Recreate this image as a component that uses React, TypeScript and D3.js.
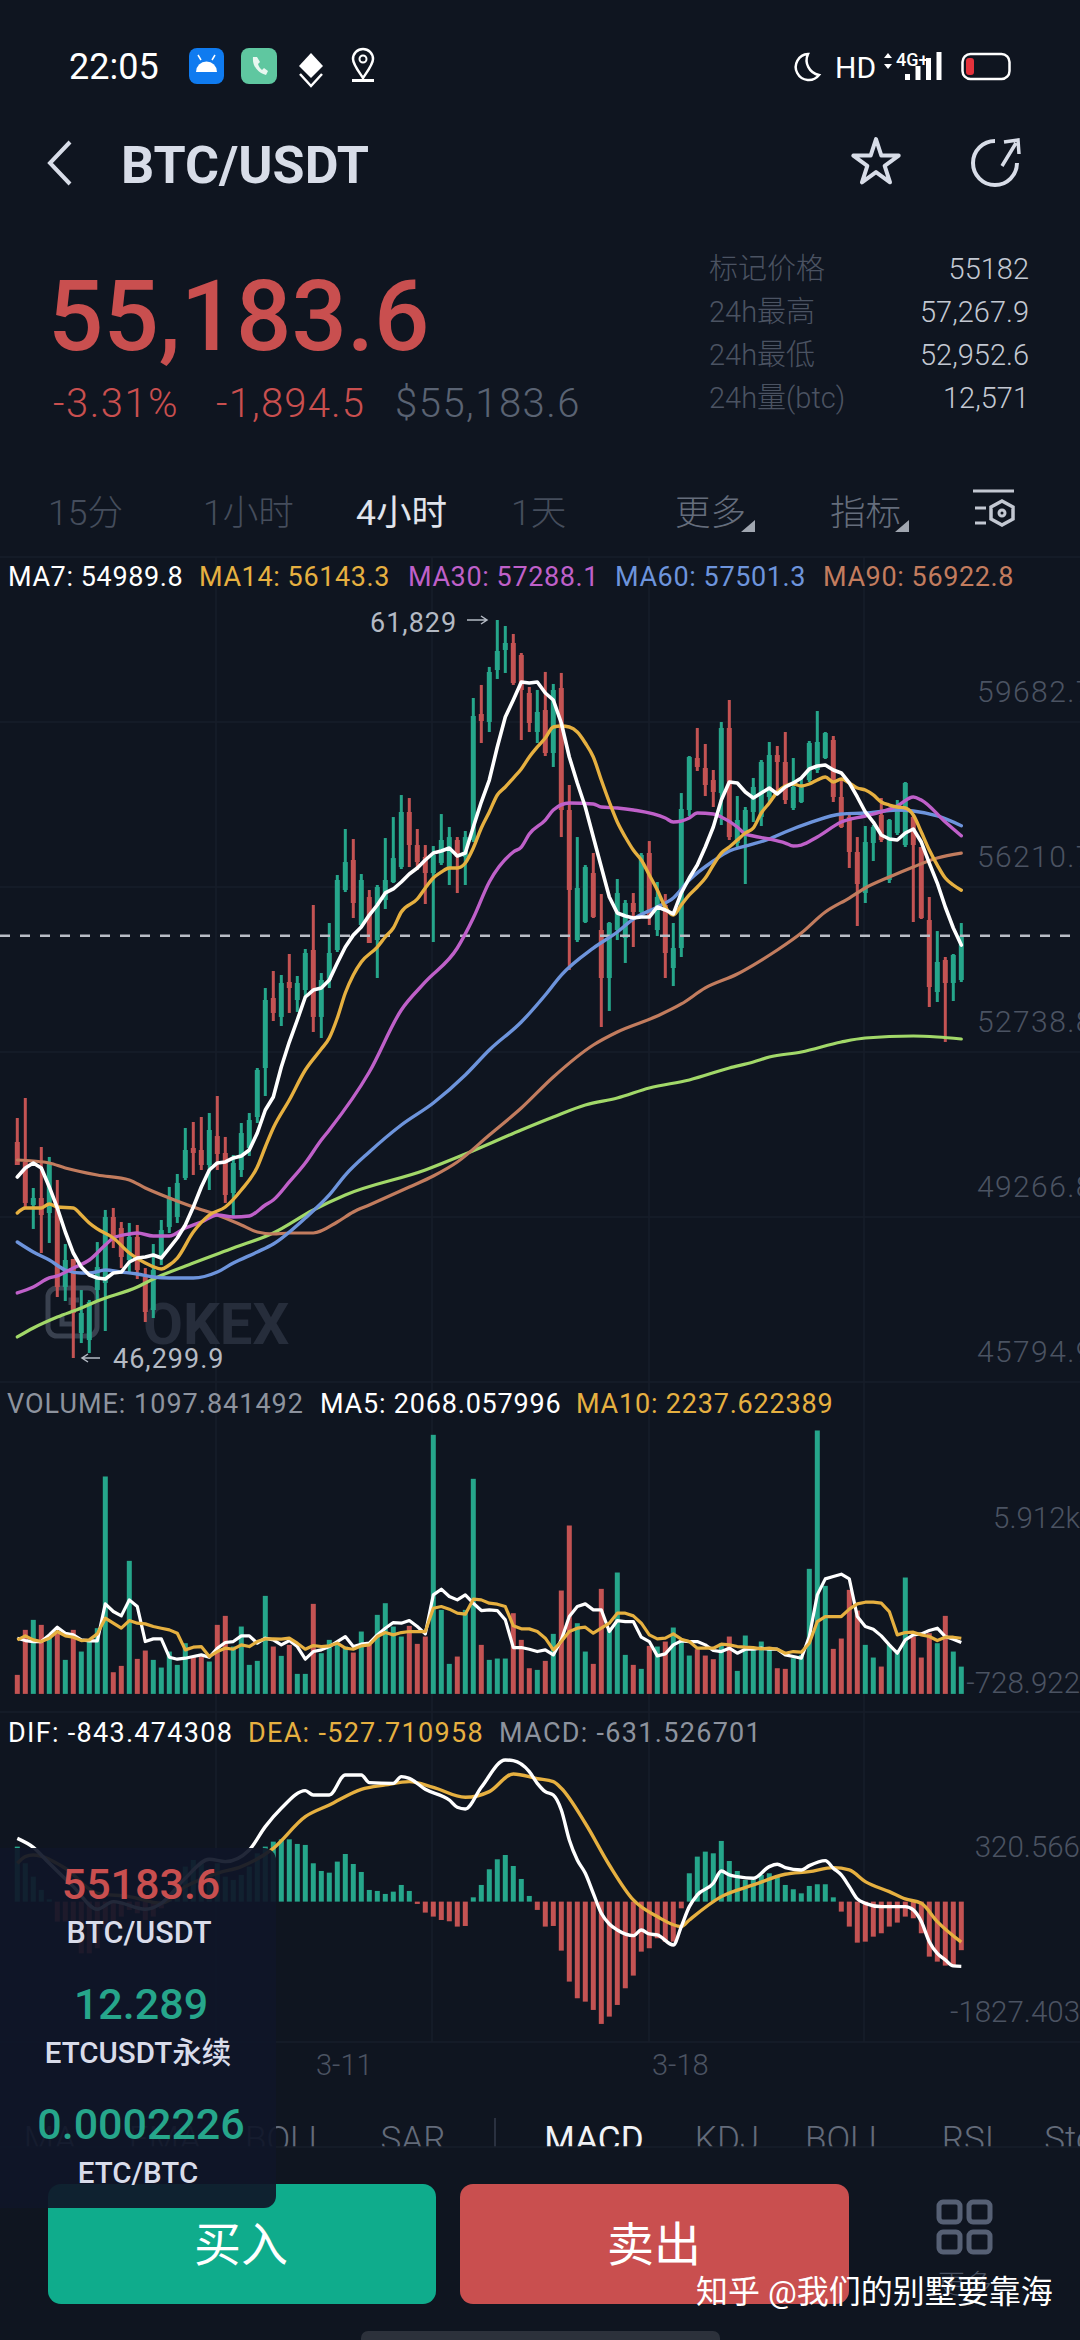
import React from "react";
import * as d3 from "d3";

// candles
const opens = [50845,50424,49520,49667,49351,49478,47795,48383,46826,46678,47730,47878,49267,49036,48362,48846,48004,47310,48425,49057,49267,50088,50719,50677,50361,50971,50614,49772,50256,50719,51371,52402,53875,53476,54212,53833,54043,54885,53476,54254,54885,56148,56779,55411,56000,55095,55937,56316,56631,57789,57094,56842,56505,56716,56631,57200,56842,57200,59851,59683,60777,61198,61345,61093,60293,59472,59935,59030,60398,57831,55095,55475,56505,55306,54296,55306,55137,55874,55685,56926,55306,55832,54506,54927,57831,58925,58715,58462,58189,59557,57136,57347,57788,57684,58105,58988,58841,57873,57999,58462,58673,58925,59304,58105,57684,56947,56085,57136,57726,56358,57347,57094,57684,57052,55516,54001,54675,54191,54254];
const closes = [50361,49562,49667,49309,50424,47795,48362,47247,47247,47478,48214,49267,48784,48425,48846,48151,47267,48151,48993,49688,49983,50677,50614,50361,51098,50593,49730,50403,51034,51308,52360,53833,53560,54191,54085,54191,54822,53476,54254,54822,56358,56736,55874,56358,55032,56211,56358,56820,57789,57094,56736,56505,56884,57200,57262,56842,57262,59809,59704,60735,61177,61345,60503,60356,59662,59893,59030,60356,57831,56148,56190,56631,55580,54296,55453,56084,55874,55685,56884,55622,56000,54822,54927,57852,58946,58736,58357,58210,59557,57262,57621,57831,58315,58841,58988,58841,58041,58315,58357,59241,59262,59451,58105,57473,56947,56274,57157,57473,57200,57620,57873,58399,57094,55558,54106,54633,54191,54780,55184];
const highs = [51350,51771,49877,50740,50530,50046,48698,48383,47730,47520,48740,49415,49457,49162,49141,49099,48193,48698,49204,49899,50172,51140,51266,51371,51455,51813,50951,50572,51245,51455,52402,54085,54443,54359,54801,54338,54906,55832,54401,55453,56463,57431,57220,56484,56148,56253,57241,57683,58146,58083,57431,57094,57073,57746,57473,57262,57389,60188,60462,60841,61829,61703,61535,61135,60420,60357,60736,60483,60715,58357,57262,56673,56926,56063,55474,56379,55937,56084,56926,57178,56316,56063,55453,58188,58967,59557,59220,58673,59683,60146,58125,57894,58505,58883,59262,59178,59472,58925,58505,59283,59914,59472,59388,58505,57768,57262,57494,57515,58083,57641,58041,58420,57725,57052,56000,55284,54738,54801,55453];
const lows = [50361,49478,49015,48509,48720,47583,47499,46300,46615,46405,47520,46868,48614,48193,48109,47962,47057,47141,48256,48930,49141,50046,50151,50256,49835,50256,49562,49267,50109,50551,51245,51813,53391,53286,53560,53581,53875,53160,53033,54085,54843,56105,55558,55369,55032,54296,55748,56295,56589,56631,56568,55853,55053,56673,56253,56084,56253,57157,59241,59472,60588,60714,60462,59304,59472,59241,58967,58736,57262,54464,55053,55453,55558,53265,53602,55095,54612,54948,55664,55411,55179,54296,54127,54738,57705,58652,58125,57894,57515,57200,57031,56274,57578,57494,57978,58188,57957,57831,57978,58420,58610,58904,57999,57452,56611,55390,55874,56758,57157,56295,57305,57052,55474,55537,53686,53791,52950,53812,54211];

// price moving averages: MA7 per candle, the slower ones as [candle, price]
const ma7 = [50109,50299,50404,50299,49899,49457,48951,48509,48214,48046,47983,47962,48088,48109,48320,48404,48425,48467,48404,48614,48825,49099,49478,49899,50256,50404,50425,50509,50551,50677,51034,51518,51792,52423,52949,53412,53896,54043,54085,54254,54611,54948,55198,55369,55621,55832,56085,56169,56316,56484,56611,56779,56926,56968,57031,56863,56926,57473,57999,58462,59156,59787,60146,60524,60503,60524,60293,60146,59662,58947,58400,57894,57263,56632,56000,55663,55600,55558,55579,55579,55790,55727,55643,56085,56400,56673,57052,57473,58041,58420,58400,58210,58083,58189,58294,58168,58315,58400,58504,58694,58757,58778,58673,58610,58400,58105,57789,57578,57305,57221,57200,57347,57431,57157,56715,56294,55790,55348,54990];
const ma14: [number, number][] = [[0,49351],[1,49457],[3,49457],[4,49540],[5,49477],[7,49457],[8,49309],[9,49141],[10,49015],[12,48825],[14,48509],[16,48299],[18,48173],[19,48257],[20,48404],[22,48951],[24,49309],[26,49477],[28,49835],[30,50319],[31,50740],[32,51140],[34,51729],[36,52360],[38,52802],[39,53033],[40,53454],[41,53980],[42,54359],[43,54632],[45,54948],[46,55159],[47,55348],[48,55685],[50,55958],[51,56190],[52,56400],[53,56526],[54,56611],[55,56611],[56,56716],[57,57031],[58,57452],[59,57789],[60,58147],[61,58315],[62,58504],[63,58694],[64,58947],[65,59157],[66,59346],[67,59577],[68,59598],[69,59577],[70,59472],[71,59241],[72,58947],[73,58462],[74,57999],[75,57578],[76,57263],[77,56989],[78,56779],[79,56463],[80,56148],[81,55790],[82,55621],[83,55832],[84,56043],[85,56211],[86,56400],[87,56673],[88,56926],[89,57052],[90,57200],[91,57347],[92,57452],[93,57768],[94,57978],[95,58210],[96,58336],[97,58378],[98,58336],[99,58378],[100,58462],[101,58525],[102,58420],[103,58483],[104,58400],[105,58294],[106,58252],[107,58147],[108,57999],[109,57936],[110,57894],[111,57873],[112,57725],[113,57367],[114,56989],[115,56673],[116,56400],[117,56253],[118,56143]];
const ma30: [number, number][] = [[0,47668],[2,47794],[4,47984],[5,48026],[7,48194],[9,48362],[11,48677],[12,48825],[14,48909],[15,48930],[17,48867],[19,48867],[21,49035],[23,49162],[25,49309],[27,49267],[29,49288],[31,49519],[32,49625],[34,50004],[36,50404],[38,50887],[39,51098],[44,52318],[48,53623],[51,54212],[55,54927],[57,55558],[59,56316],[62,56947],[63,57052],[64,57326],[66,57620],[67,57831],[69,57978],[72,57957],[73,57894],[75,57873],[77,57831],[81,57663],[82,57578],[84,57663],[85,57768],[87,57747],[88,57684],[90,57473],[91,57326],[92,57284],[94,57221],[96,57136],[97,57073],[98,57094],[100,57263],[103,57578],[106,57705],[108,57789],[110,57915],[112,58105],[113,58041],[116,57578],[118,57288]];
const ma60: [number, number][] = [[0,48741],[2,48531],[4,48362],[6,48151],[8,48088],[9,48088],[11,48151],[13,48109],[15,48067],[17,48004],[19,47983],[22,47983],[25,48109],[27,48299],[30,48531],[32,48699],[36,49245],[39,49730],[41,50149],[44,50635],[48,51203],[52,51666],[56,52255],[59,52781],[63,53370],[66,53938],[68,54358],[72,54926],[75,55264],[77,55537],[80,55790],[82,55979],[84,56358],[87,56758],[89,56968],[91,57073],[94,57221],[96,57368],[99,57558],[103,57747],[106,57768],[110,57831],[112,57810],[115,57705],[118,57501]];
const ma90: [number, number][] = [[0,50466],[2,50445],[4,50404],[6,50299],[10,50151],[14,50046],[16,49877],[19,49667],[22,49477],[25,49309],[28,49099],[30,48951],[32,48909],[34,48930],[37,48930],[40,49162],[42,49372],[44,49519],[49,49898],[52,50130],[55,50424],[59,50992],[63,51560],[67,52213],[72,52886],[75,53160],[80,53496],[83,53749],[86,54086],[90,54380],[92,54569],[95,54885],[98,55243],[101,55685],[104,55979],[106,56190],[109,56421],[112,56632],[115,56821],[118,56923]];
const ma120: [number, number][] = [[0,46742],[2,46932],[5,47163],[8,47352],[10,47499],[15,47794],[17,47962],[22,48299],[27,48614],[32,48930],[37,49414],[41,49730],[51,50256],[56,50592],[63,51098],[67,51371],[71,51624],[75,51772],[79,51982],[84,52151],[89,52403],[92,52529],[94,52634],[98,52739],[103,52949],[106,53033],[112,53075],[115,53054],[118,53012]];

// volume
const volumes = [765,2577,2979,2778,2308,2442,1369,2577,1704,2107,2644,8750,872,1127,5355,1409,1745,1369,1060,1704,1168,2040,1503,1503,1302,2778,3140,1906,2711,1168,1329,3945,1906,1530,1973,805,805,3623,1637,2174,2040,1906,1664,2510,1973,3181,3650,2711,2308,2738,2013,2308,10427,3382,1208,1503,3382,8656,1973,1369,1423,1423,3248,2174,1033,966,1329,2416,4160,6777,2845,1704,1208,4227,2644,4885,1570,1168,1007,1932,1906,2107,2671,2107,1543,1798,1543,1396,2040,2308,926,2349,1771,2107,1839,1033,1007,1436,1570,5033,10602,4348,1812,2228,4187,3355,1973,1463,1100,1973,1771,4684,2308,1463,2442,2040,3140,1704,1098];
const volMa5 = [2241,2147,2107,2107,2375,2684,2442,2375,2174,2134,2134,3623,3315,3140,3784,3516,2107,2214,2214,1476,1396,1436,1503,1570,1476,1839,2067,2107,2335,2335,2040,2241,2174,1973,2147,1906,1396,1704,1771,1906,2107,2308,1906,2000,2040,2375,2644,2872,2845,2952,2711,2416,3986,4214,3919,3784,3986,3650,3355,3382,3355,2979,1865,1865,1798,1704,1771,1570,2174,3113,3516,3623,3382,3382,2510,2952,2912,2912,2281,2107,1530,1610,1973,2134,2107,2107,1973,1745,1704,1839,1637,1798,1798,1839,1798,1798,1570,1503,1436,2308,3986,4630,4724,4818,4630,3113,2711,2603,2335,1973,1637,2174,2375,2416,2550,2644,2308,2201,2068];
const volMa10 = [2174,2335,2174,2107,2241,2510,2335,2281,2147,2174,2416,3046,2845,2644,2952,2845,2818,2711,2644,2577,2442,1771,1879,1906,1503,1704,1839,1798,1973,1906,2107,2214,2214,2201,2241,2040,1798,1946,1906,1932,2040,1839,1798,1932,1973,2308,2469,2375,2469,2510,2510,2510,3449,3516,3409,3248,3207,3811,3784,3650,3610,3516,2738,2617,2617,2510,2241,1771,2107,2510,2644,2684,2442,2644,2845,3248,3248,3140,2845,2375,2214,2241,2416,2201,2107,1839,1839,1839,2000,1973,1906,1879,1865,1812,1839,1798,1637,1704,1678,2040,2912,3113,3113,3113,3409,3623,3690,3690,3650,3315,2375,2469,2483,2375,2308,2147,2281,2281,2238];

// macd
const macdHist = [716,499,325,152,30,-260,-260,-412,-673,-673,-607,-369,-282,-195,-108,-152,-239,-195,-87,65,195,456,542,499,412,499,325,282,347,456,629,716,781,811,811,751,738,499,399,377,521,620,490,386,152,139,100,130,217,139,-30,-143,-195,-239,-256,-325,-317,56,217,421,551,607,464,295,74,-108,-325,-317,-638,-1041,-1258,-1302,-1410,-1592,-1497,-1345,-1128,-963,-651,-607,-477,-521,-521,-87,369,586,651,629,790,529,399,282,282,347,369,325,217,161,108,204,226,226,56,-130,-325,-534,-521,-456,-412,-325,-273,-195,-217,-412,-716,-781,-833,-824,-632];
const dif: [number, number][] = [[0,824],[2,707],[4,499],[7,195],[10,-100],[12,0],[16,-100],[18,-22],[21,304],[24,551],[26,521],[29,673],[31,976],[33,1215],[36,1445],[37,1388],[39,1388],[41,1649],[43,1649],[44,1549],[47,1540],[48,1627],[49,1605],[51,1462],[54,1323],[55,1228],[56,1206],[58,1488],[61,1844],[62,1835],[64,1692],[65,1540],[66,1432],[67,1388],[68,1193],[69,803],[70,542],[71,369],[72,108],[73,-152],[74,-291],[75,-369],[77,-443],[78,-369],[79,-421],[80,-434],[82,-564],[83,-325],[84,-65],[85,87],[87,239],[88,399],[89,347],[90,325],[92,304],[94,456],[95,486],[96,443],[98,412],[99,469],[101,534],[102,434],[103,347],[104,195],[105,35],[106,-22],[108,-65],[111,-65],[112,-108],[113,-260],[114,-521],[115,-673],[116,-759],[117,-837],[118,-843]];
const dea: [number, number][] = [[0,499],[1,586],[2,607],[6,434],[10,108],[14,65],[18,-22],[21,195],[25,369],[28,456],[32,694],[36,1106],[39,1258],[43,1462],[46,1519],[49,1562],[52,1488],[56,1358],[59,1432],[62,1662],[65,1601],[67,1562],[68,1475],[71,1020],[74,477],[77,22],[80,-195],[83,-325],[84,-239],[88,65],[92,217],[96,356],[99,390],[102,443],[104,412],[106,260],[109,130],[111,35],[113,-22],[115,-260],[118,-528]];

const priceTicks = ["59682.7", "56210.7", "52738.8", "49266.8", "45794.9"];
const volTicks = [5912, -728.922];
const volTickLabels = ["5.912k", "-728.922"];
const macdTicks = [320.566, -1827.403];
const macdTickLabels = ["320.566", "-1827.403"];
const dateLabels = ["3-11", "3-18"];
const dateCandles = [41, 83];
const lastPrice = 55183.6;
const priceHigh = 61829;
const priceLow = 46299.9;

const statRows = ["标记价格", "24h最高", "24h最低", "24h量(btc)"];
const statValues = ["55182", "57,267.9", "52,952.6", "12,571"];
const periodTabs = ["15分", "1小时", "4小时", "1天", "更多", "指标"];
const indicatorTabs = ["MA", "EMA", "BOLL", "SAR", "MACD", "KDJ", "BOLL", "RSI", "Sto"];

const BG = "#0f1520";
const GREEN = "#26a68b";
const RED = "#c45353";
const SANS = "Roboto, 'Noto Sans CJK SC', sans-serif";
const GRID = "#171e2a";
const AXIS = "#4b5362";

const C = { ma7: "#ffffff", ma14: "#e6b040", ma30: "#bf60c9", ma60: "#6d94dc", ma90: "#c27c5e", ma120: "#a2d869" };

const x = d3.scaleLinear().domain([0, 118]).range([17.3, 961.3]);
const priceY = d3.scaleLinear().domain([45794.9, 59682.7]).range([1382, 722]);
const volY = d3.scaleLinear().domain([-728.922, 5912]).range([1712, 1547]);
const macdY = d3.scaleLinear().domain([-1827.403, 320.566]).range([2042, 1877]);

const lineOf = (y: d3.ScaleLinear<number, number>, curve: d3.CurveFactory = d3.curveLinear) =>
  d3.line<[number, number]>().x(d => x(d[0])).y(d => y(d[1])).curve(curve);
const indexed = (v: number[]) => v.map((d, i) => [i, d] as [number, number]);

const priceLine = lineOf(priceY, d3.curveMonotoneX);
const volLine = lineOf(volY);
const macdLine = lineOf(macdY, d3.curveMonotoneX);

const T = (p: any) => <text fontFamily={SANS} {...p} />;

function Chart() {
  return (
    <g>
      {/* grid */}
      {[216, 432, 649, 864].map(g => <line key={g} x1={g} x2={g} y1={557} y2={2042} stroke={GRID} strokeWidth={1.5} />)}
      {[557, ...priceTicks.map(t => priceY(+t)), 1712, 2042].map(g => <line key={g} x1={0} x2={1080} y1={g} y2={g} stroke={GRID} strokeWidth={1.5} />)}

      {/* OKEX watermark */}
      <g stroke="#39414f" fill="none" strokeWidth={5}>
        <rect x={48} y={1288} width={49} height={48} rx={9} />
        <path d="M62 1315v9h11M79 1300h-8v5" />
      </g>
      <T x={143} y={1344} fontSize={58} fontWeight={700} fill="#262d3b">OKEX</T>

      {/* legend */}
      <g fontSize={27} letterSpacing={0.6}>
        <T x={8} y={586} fill={C.ma7}>MA7: 54989.8</T>
        <T x={199} y={586} fill={C.ma14}>MA14: 56143.3</T>
        <T x={408} y={586} fill={C.ma30}>MA30: 57288.1</T>
        <T x={615} y={586} fill={C.ma60}>MA60: 57501.3</T>
        <T x={823} y={586} fill={C.ma90}>MA90: 56922.8</T>
      </g>

      {priceTicks.map(t => (
        <T key={t} x={977} y={priceY(+t) - 20} fontSize={30} fontWeight={300} letterSpacing={1.4} fill={AXIS}>{t}</T>
      ))}

      {/* candles */}
      {opens.map((o, i) => {
        const c = closes[i];
        const col = c >= o ? GREEN : RED;
        const top = priceY(Math.max(o, c));
        return (
          <g key={i} fill={col}>
            <rect x={x(i) - 1.5} width={3} y={priceY(highs[i])} height={priceY(lows[i]) - priceY(highs[i])} />
            <rect x={x(i) - 2.5} width={5} y={top} height={Math.max(priceY(Math.min(o, c)) - top, 1.5)} />
          </g>
        );
      })}

      <line x1={0} x2={1080} y1={priceY(lastPrice)} y2={priceY(lastPrice)} stroke="#b9bdc6" strokeWidth={2.4} strokeDasharray="10 10" />

      <g fill="none" strokeLinejoin="round" strokeLinecap="round">
        <path d={priceLine(ma120)!} stroke={C.ma120} strokeWidth={3.2} />
        <path d={priceLine(ma90)!} stroke={C.ma90} strokeWidth={3.2} />
        <path d={priceLine(ma60)!} stroke={C.ma60} strokeWidth={3.4} />
        <path d={priceLine(ma30)!} stroke={C.ma30} strokeWidth={3.4} />
        <path d={priceLine(ma14)!} stroke={C.ma14} strokeWidth={3.4} />
        <path d={lineOf(priceY)(indexed(ma7))!} stroke={C.ma7} strokeWidth={3.6} />
      </g>

      <T x={370} y={632} fontSize={27} letterSpacing={1} fill="#b4bac4">61,829</T>
      <path d={`M467 ${priceY(priceHigh)}h20m-6 -4l6 4l-6 4`} fill="none" stroke="#b4bac4" strokeWidth={1.5} />
      <path d={`M100 ${priceY(priceLow)}h-18m6 -4l-6 4l6 4`} fill="none" stroke="#b4bac4" strokeWidth={1.5} />
      <T x={113} y={1368} fontSize={27} letterSpacing={1} fill="#b4bac4">46,299.9</T>

      {/* volume */}
      <g fontSize={27}>
        <T x={7} y={1413} letterSpacing={1} fill="#8d939e">VOLUME: 1097.841492</T>
        <T x={320} y={1413} letterSpacing={0.8} fill={C.ma7}>MA5: 2068.057996</T>
        <T x={576} y={1413} letterSpacing={0.8} fill={C.ma14}>MA10: 2237.622389</T>
      </g>
      {volumes.map((v, i) => (
        <rect key={i} x={x(i) - 2.5} width={5} y={volY(v)} height={volY(0) - volY(v)} fill={closes[i] >= opens[i] ? GREEN : RED} />
      ))}
      <g fill="none" strokeLinejoin="round" strokeWidth={3.2}>
        <path d={volLine(indexed(volMa5))!} stroke={C.ma7} />
        <path d={volLine(indexed(volMa10))!} stroke={C.ma14} />
      </g>
      {volTicks.map((t, i) => (
        <T key={t} x={1080} y={volY(t) - 19} textAnchor="end" fontSize={29.5} fontWeight={300} fill={AXIS}>{volTickLabels[i]}</T>
      ))}

      {/* macd */}
      <g fontSize={27} letterSpacing={1.3}>
        <T x={8} y={1742} fill={C.ma7}>DIF: -843.474308</T>
        <T x={248} y={1742} fill={C.ma14}>DEA: -527.710958</T>
        <T x={499} y={1742} fill="#8d939e">MACD: -631.526701</T>
      </g>
      {macdHist.map((v, i) => (
        <rect key={i} x={x(i) - 2.5} width={5} y={Math.min(macdY(v), macdY(0))} height={Math.abs(macdY(v) - macdY(0))} fill={v >= 0 ? GREEN : RED} />
      ))}
      <g fill="none" strokeLinejoin="round" strokeWidth={3.4}>
        <path d={macdLine(dea)!} stroke={C.ma14} />
        <path d={macdLine(dif)!} stroke={C.ma7} />
      </g>
      {macdTicks.map((t, i) => (
        <T key={t} x={1080} y={macdY(t) - 20} textAnchor="end" fontSize={29.5} fontWeight={300} fill={AXIS}>{macdTickLabels[i]}</T>
      ))}

      {dateLabels.map((d, i) => (
        <T key={d} x={x(dateCandles[i]) - 1} y={2075} textAnchor="middle" fontSize={29} fontWeight={300} fill={AXIS}>{d}</T>
      ))}
    </g>
  );
}

function Header() {
  const tabX = [48, 203, 356, 511, 675, 830];
  return (
    <g>
      {/* status bar */}
      <T x={69} y={79} fontSize={36} fill="#fff">22:05</T>
      <rect x={189} y={48} width={35} height={36} rx={8} fill="#0f7bf0" />
      <path d="M196 72a10.500 10.500 0 0 1 21 0z" fill="#fff" />
      <path d="M201 60l-3-5M212 60l3-5" stroke="#fff" strokeWidth={1.5} />
      <rect x={241} y={48} width={36} height={36} rx={8} fill="#5fc7a0" />
      <path d="M253 57c-1 9 5 16 13 18l2-4-4-3-2 2c-2-2-3-3-4-6l2-2-3-5z" fill="#e8f7f0" />
      <path d="M311 53l12 13-12 12-12-12z" fill="#fff" />
      <path d="M300 74l11 12 11-12" fill="none" stroke="#fff" strokeWidth={2.5} />
      <path d="M363 78c-6-9-10-14-10-19a10 10 0 0 1 20 0c0 5-4 10-10 19z" fill="none" stroke="#fff" strokeWidth={2.5} />
      <circle cx={363} cy={59} r={3.5} fill="none" stroke="#fff" strokeWidth={2} />
      <rect x={352} y={79} width={22} height={3} fill="#fff" />
      <path d="M808 54a13 13 0 1 0 11 21a15 15 0 0 1-11-21z" fill="none" stroke="#fff" strokeWidth={2.5} />
      <T x={835} y={78} fontSize={30} fill="#fff">HD</T>
      <T x={896} y={66} fontSize={18} fontWeight={500} fill="#fff">4G+</T>
      <path d="M888 53l4 5h-8zM888 69l4-5h-8z" fill="#fff" />
      {[6, 14, 22, 28].map((h, b) => <rect key={b} x={905 + b * 10.5} y={80 - h} width={5} height={h} fill="#fff" />)}
      <rect x={962.5} y={54} width={47} height={25} rx={8} fill="none" stroke="#fff" strokeWidth={2.5} />
      <rect x={966} y={58} width={8} height={17} rx={3} fill="#e4323c" />

      {/* title */}
      <path d="M70 142L50 163l20 21" fill="none" stroke="#d8dde8" strokeWidth={4} />
      <T x={121} y={183} fontSize={52} fontWeight={700} fill="#d8dde8">BTC/USDT</T>
      <path d={d3.symbol().type(d3.symbolStar).size(640)()!} transform="translate(876,163)" fill="none" stroke="#d8dde8" strokeWidth={4} strokeLinejoin="round" />
      <path d="M995 141a22 22 0 1 0 22 22" fill="none" stroke="#d8dde8" strokeWidth={4} />
      <path d="M1002 166l14-23M1004 142l14-2 1 14" fill="none" stroke="#d8dde8" strokeWidth={3.500} />

      {/* ticker */}
      <T x={48} y={350} fontSize={97.5} fontWeight={500} fill="#c94f4f">55,183.6</T>
      <T x={53} y={417} fontSize={40} fontWeight={300} letterSpacing={1.5} fill="#c94f4f">-3.31%</T>
      <T x={216} y={417} fontSize={40} fontWeight={300} letterSpacing={1.2} fill="#c94f4f">-1,894.5</T>
      <T x={395} y={417} fontSize={40} fontWeight={300} letterSpacing={1.5} fill="#5a6373">$55,183.6</T>
      {statRows.map((s, i) => (
        <g key={s}>
          <T x={709} y={279 + i * 43} fontSize={29} fontWeight={300} fill="#4b5362">{s}</T>
          <T x={1029} y={279 + i * 43} textAnchor="end" fontSize={29} fontWeight={300} fill="#c3c8d2">{statValues[i]}</T>
        </g>
      ))}

      {/* period tabs */}
      {periodTabs.map((t, i) => (
        <T key={t} x={tabX[i]} y={525} fontSize={35.5} fontWeight={i === 2 ? 400 : 300} fill={i === 2 ? "#e0e4ec" : i > 3 ? "#656d7c" : "#454d5c"}>{t}</T>
      ))}
      <path d="M755 520v12h-14zM909 520v12h-14z" fill="#a0a6b0" />
      <g stroke="#c3c8d2" strokeWidth={3} fill="none">
        <path d="M973 491h41M975 508h11M975 523h11" />
        <path d="M1002 501l11 6v12l-11 6-11-6v-12z" strokeWidth={3.500} />
        <circle cx={1002} cy={513} r={3} />
      </g>
    </g>
  );
}

function Footer() {
  const tabX = [50, 165, 286, 413, 594, 727, 846, 968, 1070];
  return (
    <g>
      <clipPath id="tabs"><rect x={0} y={2100} width={1080} height={47} /></clipPath>
      <g clipPath="url(#tabs)">
        {indicatorTabs.map((t, i) => (
          <T key={i} x={tabX[i]} y={2151} textAnchor="middle" fontSize={35} fontWeight={i === 4 ? 400 : 300} fill={i === 4 ? "#f0f2f6" : "#636b7a"}>{t}</T>
        ))}
        <line x1={495} x2={495} y1={2118} y2={2147} stroke="#2a3140" strokeWidth={2} />
      </g>
      <line x1={0} x2={1080} y1={2147} y2={2147} stroke={GRID} strokeWidth={1.5} />

      <rect x={48} y={2184} width={388} height={120} rx={13} fill="#0fac8c" />
      <rect x={460} y={2184} width={389} height={120} rx={13} fill="#c94f4f" />
      <T x={241} y={2261} textAnchor="middle" fontSize={47} fill="#fff">买入</T>
      <T x={654} y={2261} textAnchor="middle" fontSize={47} fill="#fff">卖出</T>

      <g fill="none" stroke="#566074" strokeWidth={5}>
        {[0, 1].map(r => [0, 1].map(k => <rect key={`${r}${k}`} x={939 + k * 30} y={2202 + r * 30} width={21} height={20} rx={4} />))}
      </g>
      <T x={965} y={2294} textAnchor="middle" fontSize={27} fontWeight={300} fill="#4b5362">更多</T>

      {/* floating tickers */}
      <path d="M0 1848H264a12 12 0 0 1 12 12V2196a12 12 0 0 1-12 12H0z" fill="#0f1628" fillOpacity={0.92} />
      <g textAnchor="middle">
        <T x={141} y={1899} fontSize={43} fontWeight={500} fill="#c94f4f">55183.6</T>
        <T x={139} y={1943} fontSize={30.5} fontWeight={500} fill="#d9dcea">BTC/USDT</T>
        <T x={141} y={2019} fontSize={43} fontWeight={500} fill={GREEN}>12.289</T>
        <T x={138} y={2063} fontSize={29.5} fontWeight={500} fill="#d9dcea">ETCUSDT永续</T>
        <T x={141} y={2139} fontSize={43} fontWeight={500} fill={GREEN}>0.0002226</T>
        <T x={138} y={2183} fontSize={29.5} fontWeight={500} fill="#d9dcea">ETC/BTC</T>
      </g>

      <T x={696} y={2303} fontSize={32} fill="#fff">知乎 @我们的别墅要靠海</T>
      <path d="M361 2340v-2a7 7 0 0 1 7-7H713a7 7 0 0 1 7 7v2z" fill="#2c313b" />
    </g>
  );
}

export default function App() {
  return (
    <>
      <style>{`body{margin:0;background:${BG}}`}</style>
      <svg width={1080} height={2340} viewBox="0 0 1080 2340" style={{ position: "absolute", left: 0, top: 0, background: BG }}>
        <Header />
        <Chart />
        <Footer />
      </svg>
    </>
  );
}
